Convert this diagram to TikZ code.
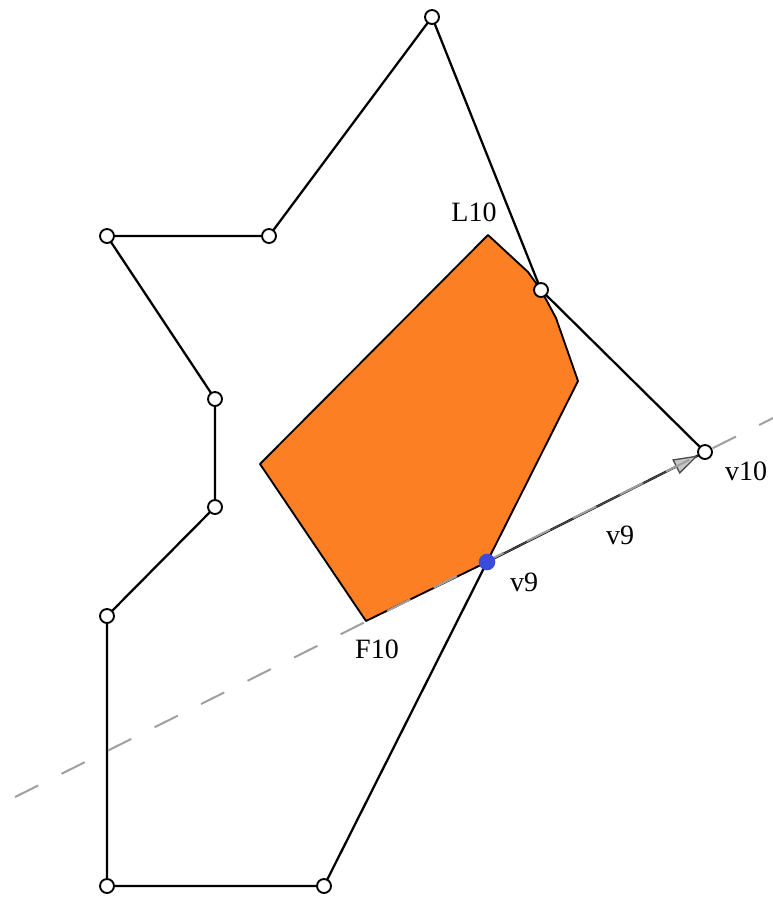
\documentclass[tikz,border=0pt]{standalone}
\usepackage{fontspec}
\setmainfont{Liberation Serif}
\usetikzlibrary{arrows.meta,calc}
\definecolor{fillorange}{RGB}{253,127,36}
\definecolor{dotblue}{RGB}{58,76,222}
\definecolor{dashgray}{RGB}{160,160,160}
\begin{document}
\begin{tikzpicture}[x=0.75pt,y=-0.75pt,
  vert/.style={circle,draw=black,fill=white,line width=1.4pt,inner sep=0pt,minimum size=10.5pt},
  bluedot/.style={circle,fill=dotblue,inner sep=0pt,minimum size=12.5pt},
  edge/.style={line width=1.7pt,draw=black},
  lbl/.style={font=\fontsize{21}{25}\selectfont,inner sep=0pt}]
\useasboundingbox (0,0) rectangle (773,897);
% orange polygon
\coordinate (L10) at (488,235);
\coordinate (o2) at (528,272);
\coordinate (o3) at (541,290);
\coordinate (o4) at (556,318);
\coordinate (o5) at (578,381);
\coordinate (o6) at (487,562);
\coordinate (F10) at (366,621);
\coordinate (o8) at (260,464);
\fill[fillorange] (L10) -- (o2) -- (o3) -- (o4) -- (o5) -- (o6) -- (F10) -- (o8) -- cycle;
\draw[line width=1.4pt,line join=round] (L10) -- (o2) -- (o3) -- (o4) -- (o5) -- (o6) -- (F10) -- (o8) -- cycle;
% outer polygon coordinates
\coordinate (c1) at (432,17);
\coordinate (c2) at (541,290);
\coordinate (c3) at (705,452);
\coordinate (c9) at (487,562);
\coordinate (c4) at (324,886);
\coordinate (c5) at (107,886);
\coordinate (c6) at (107,616);
\coordinate (c7) at (215,507);
\coordinate (c8) at (215,399);
\coordinate (c10) at (107,236);
\coordinate (c11) at (269,236);
\draw[edge,line join=round] (c1) -- (c2) -- (c3) -- (c9) -- (c4) -- (c5) -- (c6) -- (c7) -- (c8) -- (c10) -- (c11) -- cycle;
% arrow v9 -> v10
\coordinate (tip) at ($(c3)!5.5pt!(c9)$);
\draw[draw=gray!60!black,line width=1pt,-{Triangle[length=19pt,width=12pt,fill=gray!45]}] (c9) -- (tip);
% dashed support line
\coordinate (dstart) at (15,797);
\coordinate (dend) at (773,418);
\draw[dashgray,line width=1.5pt,dash pattern=on 19.5pt off 19.5pt] (dstart) -- (dend);
% vertices
\foreach \n in {c1,c2,c3,c4,c5,c6,c7,c8,c10,c11} \node[vert] (v\n) at (\n) {};
\node[bluedot] (v9) at (c9) {};
% labels
\node[lbl] (tL10) at (474,212) {L10};
\node[lbl] (tv10) at (746,471) {v10};
\node[lbl] (tv9a) at (620,535) {v9};
\node[lbl] (tv9b) at (524,582) {v9};
\node[lbl] (tF10) at (377,649) {F10};
\end{tikzpicture}
\end{document}
